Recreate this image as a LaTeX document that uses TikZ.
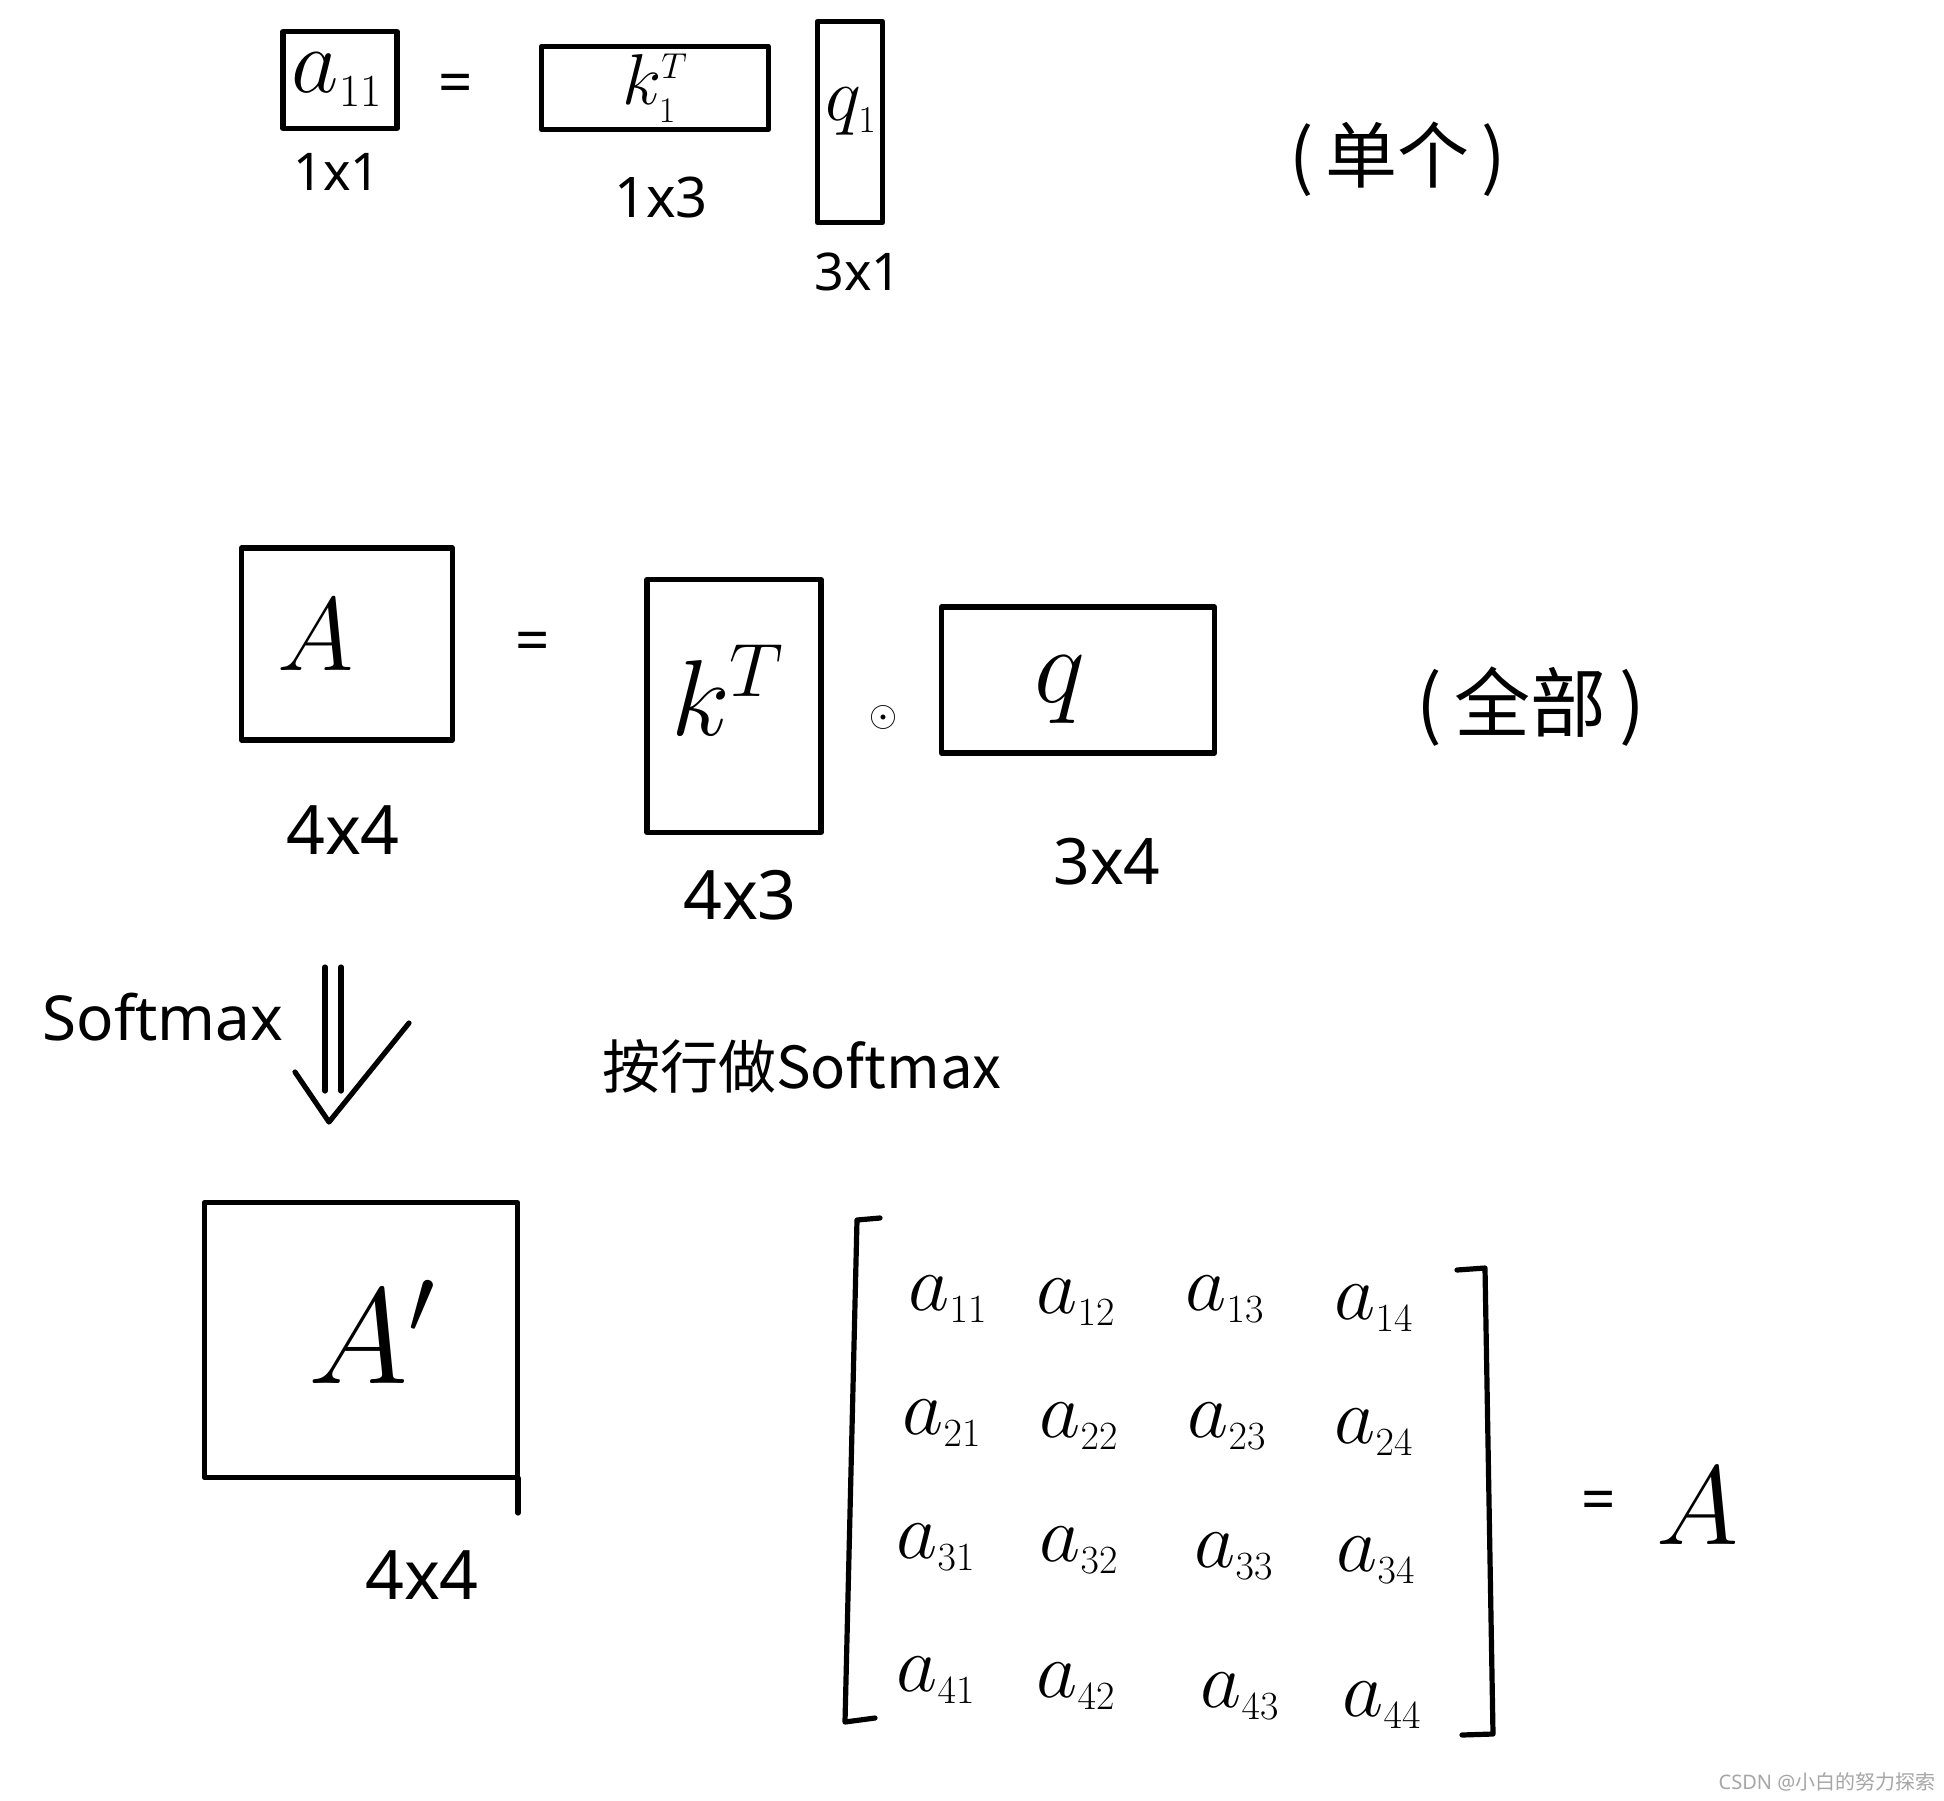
\RequirePackage{fix-cm}
\documentclass[tikz,border=0pt]{standalone}
\usepackage{fontspec}
\setmainfont{Noto Sans}
\newfontfamily\cjk{Noto Sans CJK SC}
\newcommand\hsz[1]{\fontsize{#1}{#1}\selectfont}
\newcommand\ent[2]{\hsz{40}$a_{\scriptscriptstyle #1#2}$}
\tikzset{
  hand/.style={line width=2.6pt, line cap=round, line join=round},
  box/.style={draw, hand, rectangle, inner sep=0pt},
  lbl/.style={inner sep=0pt},
  wmark/.style={inner sep=0pt, font=\hsz{10}, text=gray!70}
}
\begin{document}
\begin{tikzpicture}[x=0.5pt,y=-0.5pt]
\useasboundingbox[fill=white] (0,0) rectangle (1944,1800);

% ---- row 1 (single) ----
\node[box, minimum width=57pt, minimum height=48.5pt] (b11) at (340,80) {};
\node[lbl] (ta11) at (337,80) {\hsz{46}$a_{\scriptscriptstyle 11}$};
\node[lbl] (d11) at (337,172) {\hsz{26}1x1};
\node[lbl] (eq1) at (456,89) {\hsz{30}=};
\node[box, minimum width=113.5pt, minimum height=41.5pt] (bk1) at (655,88) {};
\node[lbl] (tk1) at (655,88) {\hsz{36}$k_{\scriptscriptstyle 1}^{\scriptscriptstyle T}$};
\node[lbl] (dk1) at (661,198) {\hsz{28}1x3};
\node[box, minimum width=32.5pt, minimum height=100.5pt] (bq1) at (850,122) {};
\node[lbl] (tq1) at (851,112) {\hsz{38}$q_{\scriptscriptstyle 1}$};
\node[lbl] (dq1) at (858,272) {\hsz{26}3x1};
\node[lbl] (single) at (1398,159) {\hsz{36}\cjk (\,单个\,)};

% ---- row 2 (all) ----
\node[box, minimum width=105.5pt, minimum height=96pt] (bA) at (347,644) {};
\node[lbl] (tA) at (316,635) {\hsz{52}$A$};
\node[lbl] (dA) at (343,830) {\hsz{34}4x4};
\node[lbl] (eq2) at (533,647) {\hsz{30}=};
\node[box, minimum width=87pt, minimum height=126.5pt] (bk) at (734,706) {};
\node[lbl] (tk) at (728,690) {\hsz{54}$k^{\scriptstyle T}$};
\node[lbl] (dk) at (740,895) {\hsz{34}4x3};
\node[lbl] (dot) at (883,717) {\hsz{18}$\odot$};
\node[box, minimum width=136.5pt, minimum height=73pt] (bq) at (1078,680) {};
\node[lbl] (tq) at (1060,690) {\hsz{54}$q$};
\node[lbl] (dq) at (1107,862) {\hsz{32}3x4};
\node[lbl] (all) at (1531,707) {\hsz{38}\cjk (\,全部\,)};

% ---- softmax arrow ----
\node[lbl] (sm) at (163,1017) {\hsz{31}Softmax};
\coordinate (l1t) at (325,967);  \coordinate (l1b) at (325,1091);
\coordinate (l2t) at (341,967);  \coordinate (l2b) at (341,1091);
\coordinate (hL) at (295,1072);  \coordinate (hT) at (329,1122);  \coordinate (hR) at (409,1023);
\draw[hand] (l1t) -- (l1b);
\draw[hand] (l2t) -- (l2b);
\draw[hand] (hL) -- (hT) -- (hR);
\node[lbl] (row) at (802,1066) {\hsz{29}\cjk 按行做Softmax};

% ---- row 3 ----
\node[box, minimum width=156.5pt, minimum height=137.5pt] (bAp) at (361,1340) {};
\coordinate (rx1) at (518,1478); \coordinate (rx2) at (518,1513);
\draw[hand] (rx1) -- (rx2);
\node[lbl] (tAp) at (372,1332) {\hsz{68}$A'$};
\node[lbl] (dAp) at (422,1575) {\hsz{34}4x4};

% matrix entries
\node[lbl] (m11) at (948,1299) {\ent11};
\node[lbl] (m12) at (1076,1302) {\ent12};
\node[lbl] (m13) at (1225,1299) {\ent13};
\node[lbl] (m14) at (1374,1308) {\ent14};
\node[lbl] (m21) at (942,1423) {\ent21};
\node[lbl] (m22) at (1079,1426) {\ent22};
\node[lbl] (m23) at (1227,1426) {\ent23};
\node[lbl] (m24) at (1374,1432) {\ent24};
\node[lbl] (m31) at (936,1547) {\ent31};
\node[lbl] (m32) at (1079,1550) {\ent32};
\node[lbl] (m33) at (1234,1556) {\ent33};
\node[lbl] (m34) at (1376,1560) {\ent34};
\node[lbl] (m41) at (936,1680) {\ent41};
\node[lbl] (m42) at (1076,1686) {\ent42};
\node[lbl] (m43) at (1240,1696) {\ent43};
\node[lbl] (m44) at (1382,1705) {\ent44};

% brackets
\coordinate (lb1) at (880,1218); \coordinate (lb2) at (857,1220);
\coordinate (lb3) at (845,1722); \coordinate (lb4) at (875,1718);
\draw[hand] (lb1) -- (lb2) -- (lb3) -- (lb4);
\coordinate (rb1) at (1457,1270); \coordinate (rb2) at (1485,1268);
\coordinate (rb3) at (1493,1734); \coordinate (rb4) at (1462,1735);
\draw[hand] (rb1) -- (rb2) -- (rb3) -- (rb4);

\node[lbl] (eq3) at (1599,1506) {\hsz{30}=};
\node[lbl] (tA2) at (1698,1506) {\hsz{56}$A$};

\node[wmark] (wm) at (1827,1782) {CSDN @{\cjk 小白的努力探索}};
\end{tikzpicture}
\end{document}
